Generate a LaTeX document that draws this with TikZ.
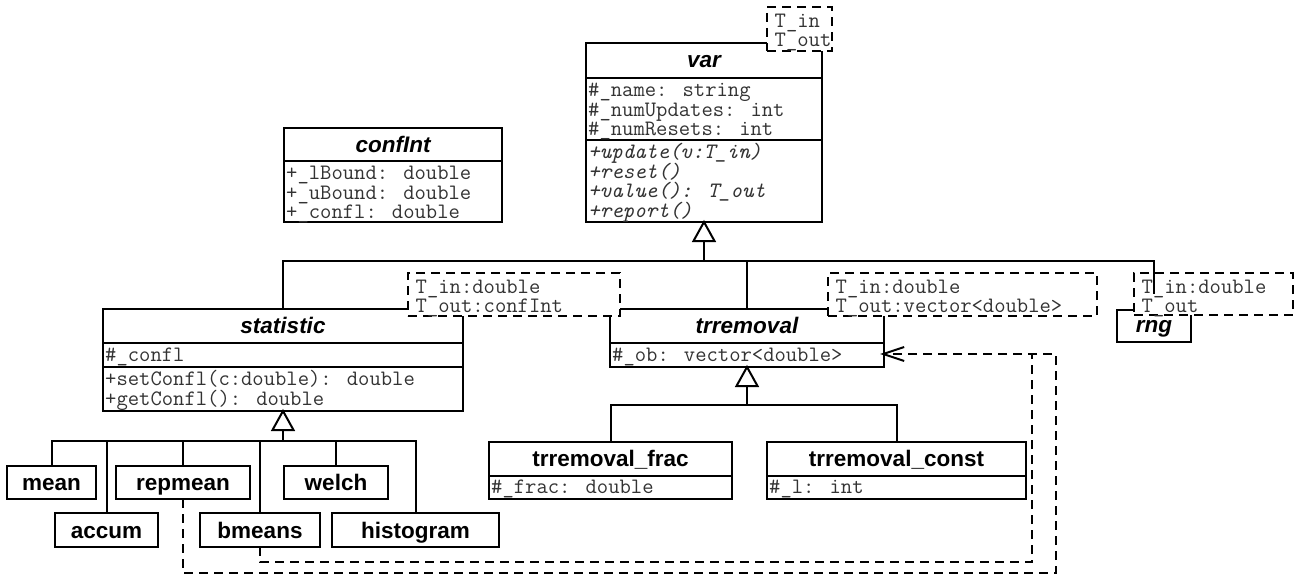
\documentclass[tikz,border=0pt]{standalone}
\usepackage{fontspec}
\setmainfont{Liberation Sans}
\usetikzlibrary{arrows.meta,calc}
\newfontfamily\ttlfont{Liberation Sans}
\newcommand\monof{\fontsize{22}{19.5}\selectfont\ttfamily\lineskiplimit=-100pt\relax}
\newcommand\monot{\fontsize{22}{19}\selectfont\ttfamily\lineskiplimit=-100pt\relax}
\newcommand\ttlf{\fontsize{22.5}{27}\selectfont\ttlfont\bfseries}
\newcommand\fs{\rule{0pt}{18.5pt}}
\newcommand\ts{\rule{0pt}{20pt}}
\begin{document}
\begin{tikzpicture}[x=1pt,y=-1pt,
  box/.style={draw, line width=2pt, fill=white, inner sep=0pt, outer sep=0pt},
  tbox/.style={draw, line width=2pt, dash pattern=on 9pt off 6pt, fill=white, inner sep=0pt, outer sep=0pt},
  ln/.style={line width=2pt},
  dln/.style={line width=2pt, dash pattern=on 9pt off 6pt},
  ttl/.style={anchor=base, inner sep=0pt, font=\ttlf},
  ttli/.style={anchor=base, inner sep=0pt, font=\ttlf\itshape},
  mono/.style={anchor=north west, align=left, inner sep=0pt, font=\monof, text=black!80},
  monoi/.style={anchor=north west, align=left, inner sep=0pt, font=\monof\itshape, text=black!80},
  tmono/.style={anchor=north west, align=left, inner sep=0pt, font=\monot, text=black!80},
  inh/.style={line width=2pt, fill=white}
]
\useasboundingbox (0,0) rectangle (1299,578);

% ---- class boxes
\node[box, minimum width=236, minimum height=179] (var) at (704,132.5) {};
\node[box, minimum width=218, minimum height=94] (conf) at (393,175) {};
\node[box, minimum width=360, minimum height=102] (stat) at (283,360) {};
\node[box, minimum width=274, minimum height=58] (trr) at (747,338) {};
\node[box, minimum width=74, minimum height=32] (rng) at (1154,326) {};
\node[box, minimum width=243, minimum height=57] (frac) at (610.5,470.5) {};
\node[box, minimum width=259, minimum height=57] (const) at (896.5,470.5) {};
\node[box, minimum width=89, minimum height=33] (mean) at (51.5,482.5) {};
\node[box, minimum width=134, minimum height=33] (repmean) at (183,482.5) {};
\node[box, minimum width=104, minimum height=33] (welch) at (336,482.5) {};
\node[box, minimum width=103, minimum height=34] (accum) at (106.5,530) {};
\node[box, minimum width=120, minimum height=34] (bmeans) at (260,530) {};
\node[box, minimum width=167, minimum height=34] (histo) at (415.5,530) {};

% ---- compartment separators
\draw[ln] (var.west |- 0,78) -- (var.east |- 0,78);
\draw[ln] (var.west |- 0,140) -- (var.east |- 0,140);
\draw[ln] (conf.west |- 0,161) -- (conf.east |- 0,161);
\draw[ln] (stat.west |- 0,343) -- (stat.east |- 0,343);
\draw[ln] (stat.west |- 0,367) -- (stat.east |- 0,367);
\draw[ln] (trr.west |- 0,343) -- (trr.east |- 0,343);
\draw[ln] (frac.west |- 0,476) -- (frac.east |- 0,476);
\draw[ln] (const.west |- 0,476) -- (const.east |- 0,476);

% ---- generalisation: var
\coordinate (vbus) at (var.south |- 0,261);
\draw[ln] (var.south) ++(0,19) -- (vbus);
\draw[ln] (stat.north) |- (vbus);
\draw[ln] (trr.north) |- (vbus);
\draw[inh] (var.south) -- ++(-10.5,19) -- ++(21,0) -- cycle;

% ---- generalisation: statistic
\coordinate (sbus) at (stat.south |- 0,441);
\draw[ln] (stat.south) ++(0,19) -- (sbus);
\draw[ln] (mean.north) |- (sbus);
\draw[ln] (histo.north) |- (sbus);
\draw[ln] (accum.north) -- (accum.north |- sbus);
\draw[ln] (repmean.north) -- (repmean.north |- sbus);
\draw[ln] (bmeans.north) -- (bmeans.north |- sbus);
\draw[ln] (welch.north) -- (welch.north |- sbus);
\draw[inh] (stat.south) -- ++(-10.5,19) -- ++(21,0) -- cycle;

% ---- generalisation: trremoval
\coordinate (tbus) at (trr.south |- 0,405);
\draw[ln] (trr.south) ++(0,19) -- (tbus);
\draw[ln] (frac.north) |- (tbus);
\draw[ln] (const.north) |- (tbus);
\draw[inh] (trr.south) -- ++(-10.5,19) -- ++(21,0) -- cycle;

% ---- dependencies (dashed)
\coordinate (obtip) at ($(trr.south east)+(-4,-13)$);
\coordinate (outer) at (1056,573);
\coordinate (inner) at (1032,562);
\draw[dln, -{Straight Barb[length=21pt,width=14pt,line width=2pt]}] (repmean.south) |- (outer) |- (obtip);
\draw[dln] (bmeans.south) |- (inner) -- (inner |- obtip);

% ---- template boxes
\node[tbox, minimum width=65, minimum height=44] (vart) at (799.5,29) {};
\node[tbox, minimum width=212, minimum height=43] (statt) at (514,294.5) {};
\node[tbox, minimum width=269, minimum height=43] (trrt) at (962.5,294.5) {};
\node[tbox, minimum width=159, minimum height=42] (rngt) at (1213.5,294) {};

% ---- line to rng (drawn over its template box)
\coordinate (rngtop) at (rng.north |- 0,294);
\draw[ln] (vbus) -| (rngtop);

% ---- titles
\node[ttli] (varT) at (704,68) {var};
\node[ttli] (confT) at (393,152) {confInt};
\node[ttli] (statT) at (283,333) {statistic};
\node[ttli] (trrT) at (747,333) {trremoval};
\node[ttli] (rngT) at (1154,332) {rng};
\node[ttl] (fracT) at (610.5,466) {trremoval\_frac};
\node[ttl] (constT) at (896.5,466) {trremoval\_const};
\node[ttl] (meanT) at (51.5,490) {mean};
\node[ttl] (repmeanT) at (183,490) {repmean};
\node[ttl] (welchT) at (336,490) {welch};
\node[ttl] (accumT) at (106.5,538) {accum};
\node[ttl] (bmeansT) at (260,538) {bmeans};
\node[ttl] (histoT) at (415.5,538) {histogram};

% ---- members
\node[mono] (varA) at (588,78) {\fs\#\_name: string\\\#\_numUpdates: int\\\#\_numResets: int};
\node[monoi] (varM) at (588,140) {\fs+update(v:T\_in)\\+reset()\\+value(): T\_out\\+report()};
\node[mono] (confA) at (286,161) {\fs+\_lBound: double\\+\_uBound: double\\+\_confl: double};
\node[mono] (statA) at (105,343) {\fs\#\_confl};
\node[mono] (statM) at (105,367) {\fs+setConfl(c:double): double\\+getConfl(): double};
\node[mono] (trrA) at (612,343) {\fs\#\_ob: vector<double>};
\node[mono] (fracA) at (491,476) {\rule{0pt}{17.5pt}\#\_frac: double};
\node[mono] (constA) at (769,476) {\rule{0pt}{17.5pt}\#\_l: int};

% ---- template parameters
\node[tmono] (vartx) at (774.5,7) {\ts T\_in\\T\_out};
\node[tmono] (stattx) at (415.5,273) {\ts T\_in:double\\T\_out:confInt};
\node[tmono] (trrtx) at (835.5,273) {\ts T\_in:double\\T\_out:vector<double>};
\node[tmono] (rngtx) at (1141.5,273) {\ts T\_in:double\\T\_out};
\end{tikzpicture}
\end{document}
